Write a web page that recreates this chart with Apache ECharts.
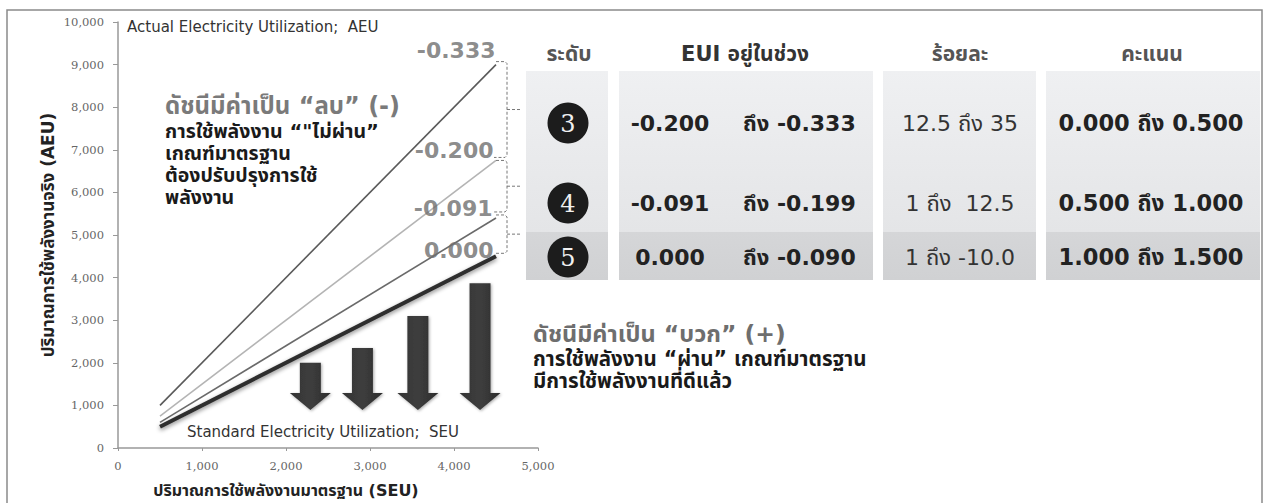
<!DOCTYPE html>
<html><head><meta charset="utf-8">
<script src="https://cdn.jsdelivr.net/npm/echarts@6/dist/echarts.min.js"></script>
<style>html,body{margin:0;padding:0;background:#fff}#c{width:1267px;height:503px}</style>
</head><body><div id="c"></div>
<script>
// ---- data ----
var seuPoints = [500, 4500];
var line333 = [1000, 9000];
var line200 = [750, 6750];
var line091 = [600, 5400];
var line000 = [500, 4500];
var lineLabels = ['-0.333', '-0.200', '-0.091', '0.000'];
// arrows: [SEU x, AEU top, AEU bottom]
var arrowX = [2290, 2910, 3570, 4310];
var arrowTop = [2000, 2350, 3100, 3870];
var arrowBottom = [890, 890, 890, 890];
// table
var headers = ['ระดับ', 'EUI อยู่ในช่วง', 'ร้อยละ', 'คะแนน'];
var levels = ['3', '4', '5'];
var euiFrom = ['-0.200', '-0.091', '0.000'];
var euiTo = ['ถึง -0.333', 'ถึง -0.199', 'ถึง -0.090'];
var percent = ['12.5 ถึง 35', '1 ถึง  12.5', '1 ถึง -10.0'];
var score = ['0.000 ถึง 0.500', '0.500 ถึง 1.000', '1.000 ถึง 1.500'];
// annotations
var negTitle = 'ดัชนีมีค่าเป็น “ลบ” (-)';
var negBody = ['การใช้พลังงาน “"ไม่ผ่าน”', 'เกณฑ์มาตรฐาน', 'ต้องปรับปรุงการใช้', 'พลังงาน'];
var posTitle = 'ดัชนีมีค่าเป็น “บวก” (+)';
var posBody = ['การใช้พลังงาน “ผ่าน” เกณฑ์มาตรฐาน', 'มีการใช้พลังงานที่ดีแล้ว'];

var FONT = "'DejaVu Sans', Tahoma, Waree, 'Noto Sans Thai', Loma, 'Noto Sans', sans-serif";
var chart = echarts.init(document.getElementById('c'), null, {renderer: 'svg'});

function pairs(ys) { return seuPoints.map(function (x, i) { return [x, ys[i]]; }); }

var allLines = [line333, line200, line091, line000];
var labelData = allLines.map(function (l, i) { return [seuPoints[1], l[1], lineLabels[i]]; });
var labelOffsets = [[0, -3], [-2, 2], [-3, 2], [-2, 6]];

var arrowData = arrowX.map(function (x, i) { return [x, arrowTop[i], arrowBottom[i]]; });

var option = {
  animation: false,
  backgroundColor: '#fff',
  grid: {left: 118, right: 729, top: 22, bottom: 55, containLabel: false},
  xAxis: {
    type: 'value', min: 0, max: 5000, interval: 1000,
    name: 'ปริมาณการใช้พลังงานมาตรฐาน (SEU)', nameLocation: 'middle', nameGap: 34,
    nameTextStyle: {fontFamily: FONT, fontWeight: 'bold', fontSize: 16, color: '#222', padding: [0, 84, 0, 0]},
    axisLine: {lineStyle: {color: '#999', width: 1.5}},
    axisTick: {show: true, length: 3, lineStyle: {color: '#999'}},
    axisLabel: {fontFamily: "'DejaVu Serif', serif", fontSize: 11.5, color: '#666', margin: 12,
      formatter: function (v) { return v.toLocaleString('en-US'); }},
    splitLine: {show: false}
  },
  yAxis: {
    type: 'value', min: 0, max: 10000, interval: 1000,
    name: 'ปริมาณการใช้พลังงานจริง (AEU)', nameLocation: 'middle', nameGap: 62,
    nameTextStyle: {fontFamily: FONT, fontWeight: 'bold', fontSize: 17, color: '#222'},
    axisLine: {show: true, lineStyle: {color: '#999', width: 1.5}},
    axisTick: {show: true, length: 5, lineStyle: {color: '#999'}},
    axisLabel: {fontFamily: "'DejaVu Serif', serif", fontSize: 11.5, color: '#666', margin: 14,
      formatter: function (v) { return v.toLocaleString('en-US'); }},
    splitLine: {show: false}
  },
  series: [
    {type: 'line', data: pairs(line333), symbol: 'none', lineStyle: {color: '#5a5a5a', width: 1.6}, z: 3},
    {type: 'line', data: pairs(line200), symbol: 'none', lineStyle: {color: '#b4b4b4', width: 1.6}, z: 3},
    {type: 'line', data: pairs(line091), symbol: 'none', lineStyle: {color: '#6a6a6a', width: 1.6}, z: 3},
    {type: 'line', data: pairs(line000), symbol: 'none', lineStyle: {color: '#2e2e2e', width: 4,
      shadowBlur: 4, shadowColor: 'rgba(0,0,0,0.45)', shadowOffsetY: 2}, z: 4},
    {type: 'scatter', data: labelData.map(function (d, i) {
        return {value: d, label: {offset: labelOffsets[i]}};
      }), symbolSize: 1, itemStyle: {color: 'rgba(0,0,0,0)'}, z: 6, silent: true,
      label: {show: true, position: [0, 0], align: 'right', verticalAlign: 'bottom',
        formatter: function (p) { return p.value[2]; },
        fontFamily: FONT, fontWeight: 'bold', fontSize: 22, color: '#6e6e6e'}},
    {type: 'custom', data: arrowData, z: 2, silent: true,
      renderItem: function (params, api) {
        var top = api.coord([api.value(0), api.value(1)]);
        var bot = api.coord([api.value(0), api.value(2)]);
        var cx = top[0], sw = 10.5, hw = 20.5, hh = 17;
        var ty = top[1], by = bot[1], hy = by - hh;
        return {
          type: 'polygon',
          shape: {points: [[cx - sw, ty], [cx + sw, ty], [cx + sw, hy], [cx + hw, hy], [cx, by], [cx - hw, hy], [cx - sw, hy]]},
          style: {
            fill: new echarts.graphic.LinearGradient(0, 0, 1, 0, [
              {offset: 0, color: '#333'}, {offset: 0.5, color: '#3e3e3e'}, {offset: 1, color: '#2c2c2c'}]),
            shadowBlur: 3, shadowColor: 'rgba(0,0,0,0.35)', shadowOffsetX: 1, shadowOffsetY: 1
          }
        };
      }}
  ]
};
chart.setOption(option);

// ---- graphic overlay: frame, texts, brackets, table ----
var g = [];
g.push({type: 'rect', shape: {x: 7, y: 10, width: 1255, height: 510}, style: {fill: 'none', stroke: '#8a8a8a', lineWidth: 1.5}, z: 0});
g.push({type: 'text', x: 127, y: 27, style: {text: 'Actual Electricity Utilization;  AEU', font: '15px ' + FONT, fill: '#333', textVerticalAlign: 'middle'}, z: 10});
g.push({type: 'text', x: 187, y: 432, style: {text: 'Standard Electricity Utilization;  SEU', font: '15px ' + FONT, fill: '#333', textVerticalAlign: 'middle'}, z: 10});

// negative annotation
g.push({type: 'text', x: 165, y: 106, style: {text: negTitle, font: 'bold 24px ' + FONT, fill: '#7a7a7a', textVerticalAlign: 'middle'}, z: 10});
g.push({type: 'text', x: 165, y: 120, style: {text: negBody.join('\n'), font: 'bold 19.5px ' + FONT, lineHeight: 22, fill: '#1a1a1a', textVerticalAlign: 'top'}, z: 10});
// positive annotation
g.push({type: 'text', x: 533, y: 334, style: {text: posTitle, font: 'bold 23.5px ' + FONT, fill: '#6e6e6e', textVerticalAlign: 'middle'}, z: 10});
g.push({type: 'text', x: 533, y: 348, style: {text: posBody.join('\n'), font: 'bold 20.5px ' + FONT, lineHeight: 22, fill: '#1a1a1a', textVerticalAlign: 'top'}, z: 10});

// brackets computed from line ends
var ends = allLines.map(function (l) { return chart.convertToPixel({gridIndex: 0}, [seuPoints[1], l[1]]); });
var bx = 507, nubX = 522;
var spans = [[ends[0][1] - 3, ends[1][1] - 3], [ends[1][1], ends[2][1] - 6], [ends[2][1] - 3, ends[3][1] - 3]];
spans.forEach(function (s) {
  var x0 = ends[0][0];
  g.push({type: 'polyline', shape: {points: [[x0, s[0]], [bx - 2, s[0]], [bx, s[0] + 2], [bx, s[1] - 2], [bx - 2, s[1]], [x0 - 2, s[1]]]},
    style: {stroke: '#777', lineWidth: 1, lineDash: [3, 2], fill: 'none'}, z: 5});
  var m = (s[0] + s[1]) / 2;
  g.push({type: 'polyline', shape: {points: [[bx, m], [nubX, m]]}, style: {stroke: '#777', lineWidth: 1, lineDash: [3, 2]}, z: 5});
});

// table
var cols = [[526, 608], [619, 873], [883, 1036], [1046, 1260]];
var upTop = 71, midY = 232, botY = 280;
var rowY = [123, 203, 257];
cols.forEach(function (c) {
  g.push({type: 'rect', shape: {x: c[0], y: upTop, width: c[1] - c[0], height: midY - upTop},
    style: {fill: new echarts.graphic.LinearGradient(0, 0, 0, 1, [{offset: 0, color: '#eff0f2'}, {offset: 1, color: '#e4e5e7'}])}, z: 1});
  g.push({type: 'rect', shape: {x: c[0], y: midY, width: c[1] - c[0], height: botY - midY},
    style: {fill: new echarts.graphic.LinearGradient(0, 0, 0, 1, [{offset: 0, color: '#d5d6d8'}, {offset: 1, color: '#d0d1d3'}])}, z: 1});
});
var headerX = [569, 745, 960, 1152];
headers.forEach(function (h, i) {
  g.push({type: 'text', x: headerX[i], y: 54, style: {text: h, font: 'bold 21px ' + FONT, fill: i === 1 ? '#333' : '#555', textAlign: 'center', textVerticalAlign: 'middle'}, z: 10});
});
levels.forEach(function (lv, i) {
  var y = rowY[i];
  g.push({type: 'circle', shape: {cx: 568, cy: y, r: 20.5}, style: {fill: '#1c1c1c'}, z: 5});
  g.push({type: 'text', x: 568, y: y + 1, style: {text: lv, font: '24px "DejaVu Serif", "Liberation Serif", serif', fill: '#f0f0f0', textAlign: 'center', textVerticalAlign: 'middle'}, z: 6});
  g.push({type: 'text', x: 670, y: y, style: {text: euiFrom[i], font: 'bold 22px ' + FONT, fill: '#222', textAlign: 'center', textVerticalAlign: 'middle'}, z: 6});
  g.push({type: 'text', x: 743, y: y, style: {text: euiTo[i], font: 'bold 22px ' + FONT, fill: '#222', textAlign: 'left', textVerticalAlign: 'middle'}, z: 6});
  g.push({type: 'text', x: 960, y: y, style: {text: percent[i], font: '22px ' + FONT, fill: '#333', textAlign: 'center', textVerticalAlign: 'middle'}, z: 6});
  g.push({type: 'text', x: 1151, y: y, style: {text: score[i], font: 'bold 22.5px ' + FONT, fill: '#222', textAlign: 'center', textVerticalAlign: 'middle'}, z: 6});
});

chart.setOption({graphic: {elements: g}});
</script></body></html>
